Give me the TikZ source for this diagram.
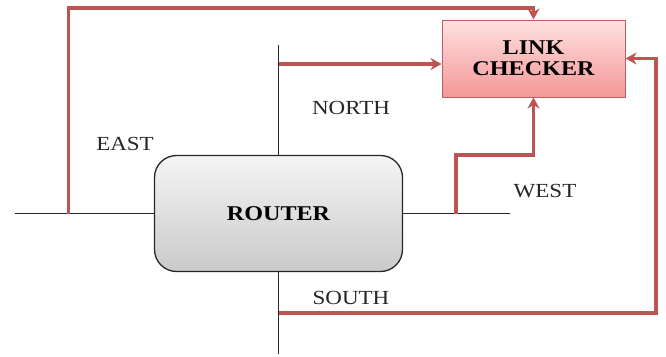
\documentclass[tikz,border=0pt]{standalone}
\usepackage{fontspec}
\setmainfont{Liberation Serif}[FakeStretch=1.15]
\usetikzlibrary{arrows.meta}

\definecolor{feedred}{RGB}{188,84,84}
\definecolor{boxedge}{RGB}{185,95,95}
\definecolor{pinktop}{RGB}{255,224,224}
\definecolor{pinkbot}{RGB}{244,152,152}

\tikzset{
	router/.style={draw=black!85, line width=1.3, rounded corners=22,
		top color=gray!8, bottom color=gray!42,
		minimum width=248, minimum height=116,
		font=\fontsize{21}{24}\selectfont\bfseries},
	checker/.style={draw=boxedge, line width=1, top color=pinktop, bottom color=pinkbot,
		minimum width=183, minimum height=77, align=center,
		font=\fontsize{21}{21}\selectfont\bfseries},
	port/.style={line width=1.4, black!85},
	feed/.style={line width=3.6, feedred, -{Stealth[length=11, width=12]}},
	tag/.style={font=\fontsize{20}{24}\selectfont, text=black!85}
}

\begin{document}
\begin{tikzpicture}[x=1pt, y=-1pt]
	\useasboundingbox (0,0) rectangle (666,356);

	\node[router] (router) at (278.5,213.5) {ROUTER};
	\node[checker] (checker) at (533.5,58.5) {LINK\\CHECKER};

	% router ports
	\coordinate (eastend) at (15,213.5);
	\coordinate (westend) at (510,213.5);
	\coordinate (northend) at (278.5,45);
	\coordinate (southend) at (278.5,354);
	\draw[port] (eastend) -- (router.west);
	\draw[port] (router.east) -- (westend);
	\draw[port] (northend) -- (router.north);
	\draw[port] (router.south) -- (southend);

	% taps into the link checker
	\coordinate (easttap) at (68.5,213.5);
	\coordinate (northtap) at (278.5,64);
	\coordinate (westtap) at (456,213.5);
	\coordinate (southtap) at (278.5,313);
	\coordinate (loopcorner) at (656,313);
	\draw[feed] (easttap) -- (easttap |- 0,8) -| (checker.north);
	\draw[feed] (northtap) -- (northtap -| checker.west);
	\draw[feed] (westtap) -- (westtap |- 0,155) -| (checker.south);
	\draw[feed] (southtap) -- (loopcorner) |- (checker.east);

	\node[tag] (east) at (125,144) {EAST};
	\node[tag] (north) at (351,108) {NORTH};
	\node[tag] (west) at (545,191) {WEST};
	\node[tag] (south) at (351,298) {SOUTH};
\end{tikzpicture}
\end{document}
